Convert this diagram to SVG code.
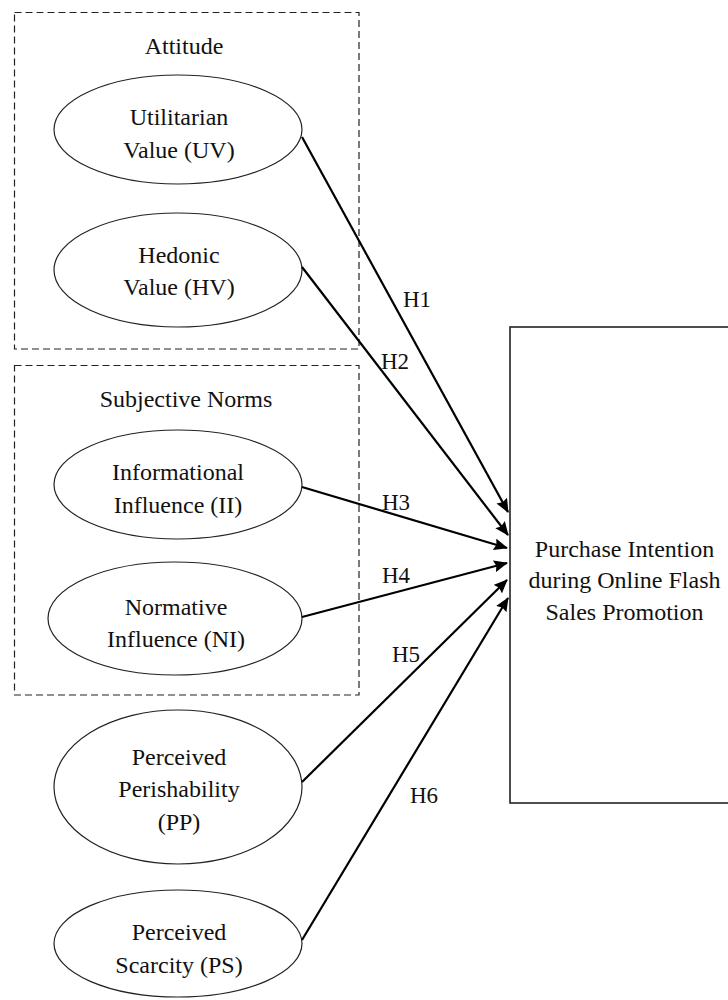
<svg xmlns="http://www.w3.org/2000/svg" width="728" height="1000" viewBox="0 0 728 1000">
  <style>
    .group-box { fill: none; stroke: #222; stroke-width: 1.2; stroke-dasharray: 7 4; }
    .construct { fill: #fff; stroke: #222; stroke-width: 1.2; }
    .outcome { fill: #fff; stroke: #222; stroke-width: 1.6; }
    .label { font-family: "Liberation Serif", "DejaVu Serif", serif; font-size: 24px; fill: #111; text-anchor: middle; }
    .hyp { font-family: "Liberation Serif", "DejaVu Serif", serif; font-size: 23px; fill: #111; }
    .path { stroke: #000; stroke-width: 2.2; fill: none; marker-end: url(#arrow); }
  </style>
  <defs>
    <marker id="arrow" markerUnits="userSpaceOnUse" markerWidth="14" markerHeight="12" refX="13" refY="6" orient="auto">
      <path d="M0,0 L14,6 L0,12 L2,6 z" fill="#000"/>
    </marker>
  </defs>

  <rect width="728" height="1000" fill="#fff"/>

  <!-- construct groupings -->
  <g id="attitude-group">
    <rect class="group-box" x="14.5" y="12.5" width="344.5" height="336.5"/>
    <text class="label" x="184" y="54">Attitude</text>
  </g>
  <g id="subjective-norms-group">
    <rect class="group-box" x="14.5" y="365.5" width="344.5" height="329.5"/>
    <text class="label" x="186" y="407">Subjective Norms</text>
  </g>

  <!-- predictor constructs -->
  <g id="uv">
    <ellipse class="construct" cx="178" cy="129.5" rx="124" ry="54.5"/>
    <text class="label" x="179" y="125">Utilitarian</text>
    <text class="label" x="179" y="158">Value (UV)</text>
  </g>
  <g id="hv">
    <ellipse class="construct" cx="178" cy="270" rx="124" ry="57"/>
    <text class="label" x="179" y="263">Hedonic</text>
    <text class="label" x="179" y="295">Value (HV)</text>
  </g>
  <g id="ii">
    <ellipse class="construct" cx="178" cy="484.5" rx="124" ry="54.5"/>
    <text class="label" x="178" y="480">Informational</text>
    <text class="label" x="178" y="513">Influence (II)</text>
  </g>
  <g id="ni">
    <ellipse class="construct" cx="175" cy="618.5" rx="127" ry="56.5"/>
    <text class="label" x="176" y="615">Normative</text>
    <text class="label" x="176" y="647">Influence (NI)</text>
  </g>
  <g id="pp">
    <ellipse class="construct" cx="178" cy="787" rx="124" ry="77"/>
    <text class="label" x="179" y="765">Perceived</text>
    <text class="label" x="179" y="797">Perishability</text>
    <text class="label" x="179" y="830">(PP)</text>
  </g>
  <g id="ps">
    <ellipse class="construct" cx="178" cy="943.5" rx="124" ry="53.5"/>
    <text class="label" x="179" y="940">Perceived</text>
    <text class="label" x="179" y="973">Scarcity (PS)</text>
  </g>

  <!-- outcome construct -->
  <g id="purchase-intention">
    <rect class="outcome" x="510" y="327" width="240" height="476"/>
    <text class="label" x="624.5" y="557">Purchase Intention</text>
    <text class="label" x="624.5" y="588">during Online Flash</text>
    <text class="label" x="624.5" y="620">Sales Promotion</text>
  </g>

  <!-- hypothesised paths -->
  <g id="connectors">
    <line class="path" x1="302" y1="137" x2="508" y2="512"/>
    <line class="path" x1="302" y1="267" x2="508" y2="535"/>
    <line class="path" x1="302" y1="487" x2="507" y2="548"/>
    <line class="path" x1="302" y1="617" x2="507" y2="563"/>
    <line class="path" x1="302" y1="782" x2="507" y2="580"/>
    <line class="path" x1="302" y1="940" x2="508" y2="598"/>
    <text class="hyp" x="403" y="307">H1</text>
    <text class="hyp" x="381" y="369">H2</text>
    <text class="hyp" x="382" y="510">H3</text>
    <text class="hyp" x="382" y="583">H4</text>
    <text class="hyp" x="392" y="662">H5</text>
    <text class="hyp" x="410" y="803">H6</text>
  </g>
</svg>
